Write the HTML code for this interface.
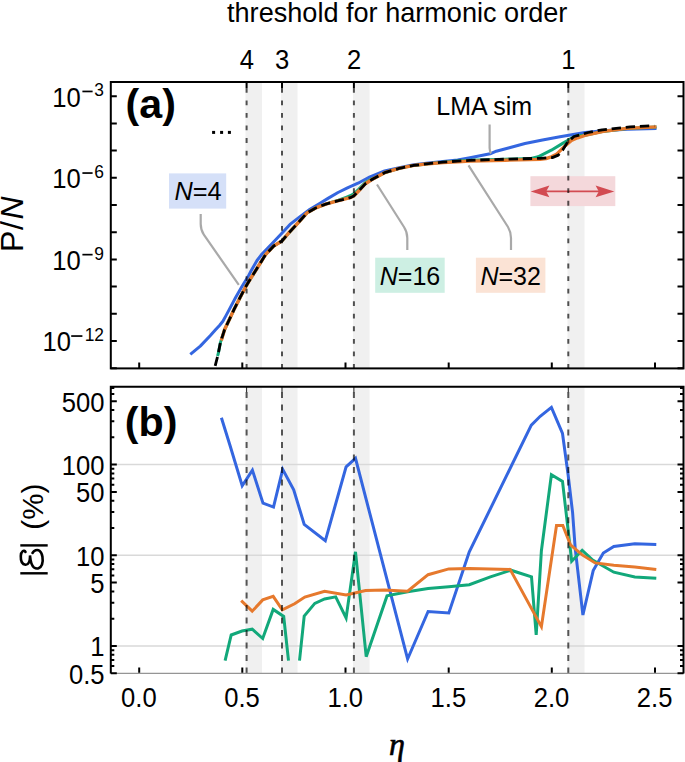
<!DOCTYPE html>
<html><head><meta charset="utf-8"><style>html,body{margin:0;padding:0;background:#fff;}svg{display:block;}</style></head>
<body>
<svg width="685" height="762" viewBox="0 0 685 762">
<rect x="0" y="0" width="685" height="762" fill="#fff"/>
<defs><clipPath id="ct"><rect x="110.8" y="82.0" width="572.7" height="286.4"/></clipPath><clipPath id="cb"><rect x="110.8" y="386.7" width="572.7" height="286.7"/></clipPath></defs>
<g clip-path="url(#ct)">
<rect x="245.5" y="82.0" width="16.5" height="286.4" fill="#f0f0f0"/>
<rect x="281.0" y="82.0" width="16.5" height="286.4" fill="#f0f0f0"/>
<rect x="353.0" y="82.0" width="16.600000000000023" height="286.4" fill="#f0f0f0"/>
<rect x="567.5" y="82.0" width="17.0" height="286.4" fill="#f0f0f0"/>
</g>
<g clip-path="url(#cb)">
<rect x="245.5" y="386.7" width="16.5" height="286.7" fill="#f0f0f0"/>
<rect x="281.0" y="386.7" width="16.5" height="286.7" fill="#f0f0f0"/>
<rect x="353.0" y="386.7" width="16.600000000000023" height="286.7" fill="#f0f0f0"/>
<rect x="567.5" y="386.7" width="17.0" height="286.7" fill="#f0f0f0"/>
</g>
<line x1="110.8" y1="646.0" x2="683.5" y2="646.0" stroke="#d9d9d9" stroke-width="1.5"/>
<line x1="110.8" y1="555.3" x2="683.5" y2="555.3" stroke="#d9d9d9" stroke-width="1.5"/>
<line x1="110.8" y1="464.6" x2="683.5" y2="464.6" stroke="#d9d9d9" stroke-width="1.5"/>
<rect x="530.4" y="176.2" width="84.9" height="29.9" fill="#f4d8db"/>
<line x1="545" y1="191.4" x2="600" y2="191.4" stroke="#d24b52" stroke-width="1.7"/>
<path d="M530.7,191.4 L549.4,185.6 L546.2,191.4 L549.4,197.2 Z" fill="#d24b52"/>
<path d="M614.3,191.4 L595.6,185.6 L598.8,191.4 L595.6,197.2 Z" fill="#d24b52"/>
<g clip-path="url(#ct)" fill="none" stroke-linejoin="round">
<polyline points="190.3,354.4 200.3,346.1 210.4,335.5 215.5,329.8 219.5,325.5 222.9,321.3 226.0,315.6 229.2,309.6 235.5,297.8 241.8,286.8 248.1,276.6 251.0,271.0 257.0,260.5 262.0,254.0 270.7,245.0 280.9,234.2 290.0,224.4 300.0,216.6 310.0,209.2 320.0,203.3 328.0,198.4 338.0,192.5 348.0,187.6 358.0,183.2 370.0,176.8 384.6,171.0 399.2,167.6 413.8,164.8 428.4,163.0 443.0,161.5 457.6,160.0 470.0,157.8 490.1,153.8 496.3,151.2 509.4,147.7 525.0,143.5 542.5,140.0 560.0,136.7 577.6,133.8 585.0,132.6 603.0,130.8 627.0,129.3 656.5,128.4" stroke="#3466e0" stroke-width="3"/>
<polyline points="217.4,356.0 218.1,354.4 220.4,342.6 224.6,329.6 229.6,319.0 234.3,308.9 240.0,297.7 245.5,287.1 249.9,279.7 256.3,269.5 265.5,254.7 273.7,246.0 281.9,241.0 289.0,232.7 299.3,221.5 307.0,212.9 315.2,208.2 325.7,204.1 338.5,200.1 346.1,197.3 350.2,195.7 353.7,193.8 358.4,189.6 365.4,182.6 372.4,178.6 372.4,179.3 384.6,172.7 399.2,168.4 413.8,165.4 428.4,163.7 443.0,162.2 457.6,161.1 470.0,160.3 505.0,159.2 530.0,158.6 538.1,156.8 551.3,150.2 561.8,143.9 567.9,140.2 574.0,136.8 579.3,135.4 585.0,135.3 603.4,131.4 626.7,128.4 656.5,126.9" stroke="#12a87a" stroke-width="3"/>
<polyline points="221.3,340.4 224.6,329.6 229.6,319.0 234.3,308.9 240.0,297.7 245.5,287.1 249.9,279.7 256.3,269.5 265.5,254.7 273.7,246.0 281.9,241.0 289.0,232.7 299.3,221.5 307.0,212.9 315.2,208.2 325.7,204.1 338.5,200.6 350.2,197.7 353.7,196.0 358.4,191.3 365.4,183.7 372.4,179.3 384.6,172.7 399.2,168.4 413.8,165.4 428.4,163.8 443.0,162.6 457.6,161.7 470.0,161.1 505.0,160.2 540.1,159.4 546.0,158.6 551.3,156.8 556.5,154.4 565.3,145.6 571.4,140.4 577.6,137.8 585.0,135.3 603.4,131.4 626.7,128.4 656.5,126.9" stroke="#e6792d" stroke-width="3.4"/>
<polyline points="213.5,372.0 215.1,366.2 218.1,354.4 220.4,342.6 224.6,329.6 229.6,319.0 234.3,308.9 240.0,297.7 245.5,287.1 249.9,279.7 256.3,269.5 265.5,254.7 273.7,246.0 281.9,241.0 289.0,232.7 299.3,221.5 307.0,212.9 315.2,208.2 325.7,204.1 338.5,200.6 350.2,197.7 353.7,196.0 358.4,191.3 365.4,183.7 372.4,179.3 384.6,172.7 399.2,168.4 413.8,165.4 428.4,163.7 443.0,162.2 457.6,161.1 470.0,160.3 505.0,159.2 540.1,158.3 552.3,157.6 558.3,155.1 562.7,150.0 567.9,141.7 574.0,136.5 579.3,135.1 588.2,132.5 602.2,129.8 616.2,128.4 630.2,126.9 644.8,126.1 654.2,125.8" stroke="#000" stroke-width="2.8" stroke-dasharray="9.36 4.8" stroke-dashoffset="7.82"/>
</g>
<g clip-path="url(#cb)" fill="none" stroke-linejoin="miter" stroke-miterlimit="4" stroke-width="3">
<polyline points="221.4,417.8 229.8,444.8 242.2,485.8 252.4,470.1 263.0,503.1 273.5,507.1 282.7,469.3 293.7,489.8 304.2,524.4 325.3,540.8 346.1,466.8 355.5,458.3 407.6,659.0 428.1,611.5 448.8,613.0 469.3,551.8 531.3,425.2 540.2,416.3 551.4,407.4 562.5,433.5 568.1,474.7 572.6,512.6 575.2,548.4 582.9,615.0 593.2,570.6 603.3,553.1 613.8,546.5 634.8,543.7 656.3,544.4" stroke="#3466e0"/>
<polyline points="225.1,660.7 231.2,635.0 242.0,631.0 252.2,629.2 262.7,638.5 273.2,609.4 283.7,616.4 288.5,660.7" stroke="#12a87a"/>
<polyline points="299.5,660.7 304.2,616.1 314.8,603.4 324.6,599.0 335.7,596.9 346.1,618.0 355.5,551.8 366.2,656.7 387.0,595.9 407.6,591.8 428.1,588.6 448.8,586.8 469.3,584.7 490.4,576.8 510.8,570.2 531.5,576.9 536.2,634.8 541.4,550.7 551.4,474.7 562.5,481.4 571.7,561.2 582.2,550.3 592.7,560.1 613.8,572.2 634.8,576.9 656.3,578.3" stroke="#12a87a"/>
<polyline points="241.2,600.6 252.2,611.2 262.7,599.9 273.2,596.4 282.3,609.9 294.6,603.8 304.8,597.1 324.6,591.2 346.1,595.0 365.6,590.5 384.5,590.0 407.6,591.2 428.1,574.7 448.8,568.9 469.3,568.4 510.1,569.4 541.4,626.7 556.5,525.5 562.8,525.5 570.5,544.9 582.2,554.9 595.1,562.9 613.8,565.2 634.8,567.1 656.3,569.4" stroke="#e6792d"/>
</g>
<line x1="246.6" y1="87.9" x2="246.6" y2="368.4" stroke="#000" stroke-opacity="0.67" stroke-width="2" stroke-dasharray="4.8 7.75"/>
<line x1="246.6" y1="391.9" x2="246.6" y2="673.4" stroke="#000" stroke-opacity="0.65" stroke-width="2" stroke-dasharray="6 6.53"/>
<line x1="282.0" y1="87.9" x2="282.0" y2="368.4" stroke="#000" stroke-opacity="0.67" stroke-width="2" stroke-dasharray="4.8 7.75"/>
<line x1="282.0" y1="391.9" x2="282.0" y2="673.4" stroke="#000" stroke-opacity="0.65" stroke-width="2" stroke-dasharray="6 6.53"/>
<line x1="353.9" y1="87.9" x2="353.9" y2="368.4" stroke="#000" stroke-opacity="0.67" stroke-width="2" stroke-dasharray="4.8 7.75"/>
<line x1="353.9" y1="391.9" x2="353.9" y2="673.4" stroke="#000" stroke-opacity="0.65" stroke-width="2" stroke-dasharray="6 6.53"/>
<line x1="568.3" y1="87.9" x2="568.3" y2="368.4" stroke="#000" stroke-opacity="0.67" stroke-width="2" stroke-dasharray="4.8 7.75"/>
<line x1="568.3" y1="391.9" x2="568.3" y2="673.4" stroke="#000" stroke-opacity="0.65" stroke-width="2" stroke-dasharray="6 6.53"/>
<g fill="none" stroke="#a9a9a9" stroke-width="2.2">
<path d="M200.7,214 L200.7,224 Q200.7,230 204,235 L238.8,284.8"/>
<path d="M407.3,250 L407.3,238 Q407.3,232 404,227 L377,184.5"/>
<path d="M511,250 L511,238 Q511,232 508,227 L468.5,165.4"/>
<path d="M489.6,124.5 L489.6,148 Q489.8,152 491,153.5"/>
</g>
<rect x="169" y="173.4" width="57.2" height="35.2" fill="#d5e0f8"/>
<rect x="375.2" y="257.7" width="69.5" height="35.1" fill="#cdefe3"/>
<rect x="475.9" y="257.7" width="69.5" height="35.1" fill="#fbe3d5"/>
<line x1="110.8" y1="673.4" x2="683.5" y2="673.4" stroke="#959595" stroke-width="1.4"/>
<path d="M110.8,96.2h6 M683.5,96.2h-6 M110.8,123.4h6 M683.5,123.4h-6 M110.8,150.6h6 M683.5,150.6h-6 M110.8,177.8h6 M683.5,177.8h-6 M110.8,205.0h6 M683.5,205.0h-6 M110.8,232.2h6 M683.5,232.2h-6 M110.8,259.4h6 M683.5,259.4h-6 M110.8,286.6h6 M683.5,286.6h-6 M110.8,313.8h6 M683.5,313.8h-6 M110.8,341.0h6 M683.5,341.0h-6 M110.8,368.2h6 M683.5,368.2h-6 M139.2,368.4v-6 M139.2,672.8v-5.4 M242.3,368.4v-6 M242.3,672.8v-5.4 M345.5,368.4v-6 M345.5,672.8v-5.4 M448.7,368.4v-6 M448.7,672.8v-5.4 M551.8,368.4v-6 M551.8,672.8v-5.4 M655.0,368.4v-6 M655.0,672.8v-5.4 M246.6,82.0v6 M282.0,82.0v6 M353.9,82.0v6 M568.3,82.0v6 M110.8,673.3h6 M683.5,673.3h-6 M110.8,666.1h3.5 M683.5,666.1h-3.5 M110.8,660.0h3.5 M683.5,660.0h-3.5 M110.8,654.8h3.5 M683.5,654.8h-3.5 M110.8,650.2h3.5 M683.5,650.2h-3.5 M110.8,646.0h6 M683.5,646.0h-6 M110.8,618.7h3.5 M683.5,618.7h-3.5 M110.8,602.7h3.5 M683.5,602.7h-3.5 M110.8,591.4h3.5 M683.5,591.4h-3.5 M110.8,582.6h6 M683.5,582.6h-6 M110.8,575.4h3.5 M683.5,575.4h-3.5 M110.8,569.3h3.5 M683.5,569.3h-3.5 M110.8,564.1h3.5 M683.5,564.1h-3.5 M110.8,559.5h3.5 M683.5,559.5h-3.5 M110.8,555.3h6 M683.5,555.3h-6 M110.8,528.0h3.5 M683.5,528.0h-3.5 M110.8,512.0h3.5 M683.5,512.0h-3.5 M110.8,500.7h3.5 M683.5,500.7h-3.5 M110.8,491.9h6 M683.5,491.9h-6 M110.8,484.7h3.5 M683.5,484.7h-3.5 M110.8,478.6h3.5 M683.5,478.6h-3.5 M110.8,473.4h3.5 M683.5,473.4h-3.5 M110.8,468.8h3.5 M683.5,468.8h-3.5 M110.8,464.6h6 M683.5,464.6h-6 M110.8,437.3h3.5 M683.5,437.3h-3.5 M110.8,421.3h3.5 M683.5,421.3h-3.5 M110.8,410.0h3.5 M683.5,410.0h-3.5 M110.8,401.2h6 M683.5,401.2h-6 M110.8,394.0h3.5 M683.5,394.0h-3.5 M110.8,387.9h3.5 M683.5,387.9h-3.5" stroke="#000" stroke-width="2" fill="none"/>
<line x1="246.6" y1="386.7" x2="246.6" y2="392.2" stroke="#222" stroke-width="1"/>
<line x1="282.0" y1="386.7" x2="282.0" y2="392.2" stroke="#222" stroke-width="1"/>
<line x1="353.9" y1="386.7" x2="353.9" y2="392.2" stroke="#222" stroke-width="1"/>
<line x1="568.3" y1="386.7" x2="568.3" y2="392.2" stroke="#222" stroke-width="1"/>
<rect x="110.8" y="82.0" width="572.7" height="286.4" fill="none" stroke="#000" stroke-width="2"/>
<path d="M110.8,673.4 V386.7 H683.5 V673.4" fill="none" stroke="#000" stroke-width="2"/>
<text x="397.2" y="21.6" font-size="27.1" text-anchor="middle" font-family="Liberation Sans, sans-serif">threshold for harmonic order</text>
<text transform="translate(246.80,69.00) scale(0.925,1)" font-size="27.7" text-anchor="middle" font-family="Liberation Sans, sans-serif">4</text>
<text transform="translate(282.20,69.00) scale(0.925,1)" font-size="27.7" text-anchor="middle" font-family="Liberation Sans, sans-serif">3</text>
<text transform="translate(354.10,69.00) scale(0.925,1)" font-size="27.7" text-anchor="middle" font-family="Liberation Sans, sans-serif">2</text>
<text transform="translate(568.50,69.00) scale(0.925,1)" font-size="27.7" text-anchor="middle" font-family="Liberation Sans, sans-serif">1</text>
<text transform="translate(80.80,106.6) scale(0.925,1)" text-anchor="end" font-family="Liberation Sans, sans-serif" font-size="27.7">10</text>
<rect x="82.4" y="90.60" width="10.20" height="1.7" fill="#000"/>
<text transform="translate(104.0,96.40) scale(0.925,1)" text-anchor="end" font-family="Liberation Sans, sans-serif" font-size="18.8">3</text>
<text transform="translate(80.80,188.2) scale(0.925,1)" text-anchor="end" font-family="Liberation Sans, sans-serif" font-size="27.7">10</text>
<rect x="82.4" y="172.20" width="10.20" height="1.7" fill="#000"/>
<text transform="translate(104.0,178.00) scale(0.925,1)" text-anchor="end" font-family="Liberation Sans, sans-serif" font-size="18.8">6</text>
<text transform="translate(80.80,269.8) scale(0.925,1)" text-anchor="end" font-family="Liberation Sans, sans-serif" font-size="27.7">10</text>
<rect x="82.4" y="253.80" width="10.20" height="1.7" fill="#000"/>
<text transform="translate(104.0,259.60) scale(0.925,1)" text-anchor="end" font-family="Liberation Sans, sans-serif" font-size="18.8">9</text>
<text transform="translate(71.10,351.2) scale(0.925,1)" text-anchor="end" font-family="Liberation Sans, sans-serif" font-size="27.7">10</text>
<rect x="71.2" y="335.20" width="11.20" height="1.7" fill="#000"/>
<text transform="translate(104.0,341.00) scale(0.925,1)" text-anchor="end" font-family="Liberation Sans, sans-serif" font-size="18.8">12</text>
<text transform="translate(104.60,411.60) scale(0.925,1)" font-size="27.7" text-anchor="end" font-family="Liberation Sans, sans-serif">500</text>
<text transform="translate(104.60,475.00) scale(0.925,1)" font-size="27.7" text-anchor="end" font-family="Liberation Sans, sans-serif">100</text>
<text transform="translate(104.60,502.30) scale(0.925,1)" font-size="27.7" text-anchor="end" font-family="Liberation Sans, sans-serif">50</text>
<text transform="translate(104.60,565.70) scale(0.925,1)" font-size="27.7" text-anchor="end" font-family="Liberation Sans, sans-serif">10</text>
<text transform="translate(104.60,593.00) scale(0.925,1)" font-size="27.7" text-anchor="end" font-family="Liberation Sans, sans-serif">5</text>
<text transform="translate(104.60,656.40) scale(0.925,1)" font-size="27.7" text-anchor="end" font-family="Liberation Sans, sans-serif">1</text>
<text transform="translate(104.60,683.70) scale(0.925,1)" font-size="27.7" text-anchor="end" font-family="Liberation Sans, sans-serif">0.5</text>
<text transform="translate(138.90,706.80) scale(0.925,1)" font-size="27.7" text-anchor="middle" font-family="Liberation Sans, sans-serif">0.0</text>
<text transform="translate(242.05,706.80) scale(0.925,1)" font-size="27.7" text-anchor="middle" font-family="Liberation Sans, sans-serif">0.5</text>
<text transform="translate(345.20,706.80) scale(0.925,1)" font-size="27.7" text-anchor="middle" font-family="Liberation Sans, sans-serif">1.0</text>
<text transform="translate(448.35,706.80) scale(0.925,1)" font-size="27.7" text-anchor="middle" font-family="Liberation Sans, sans-serif">1.5</text>
<text transform="translate(551.50,706.80) scale(0.925,1)" font-size="27.7" text-anchor="middle" font-family="Liberation Sans, sans-serif">2.0</text>
<text transform="translate(654.65,706.80) scale(0.925,1)" font-size="27.7" text-anchor="middle" font-family="Liberation Sans, sans-serif">2.5</text>
<text x="397" y="754.5" font-size="32" text-anchor="middle" font-family="Liberation Serif, serif" font-style="italic" stroke="#000" stroke-width="0.6">η</text>
<text x="125.6" y="117.5" font-size="40" font-weight="bold" font-family="Liberation Sans, sans-serif" textLength="50.3" lengthAdjust="spacingAndGlyphs">(a)</text>
<text x="124.8" y="435.7" font-size="40" font-weight="bold" font-family="Liberation Sans, sans-serif" textLength="52.6" lengthAdjust="spacingAndGlyphs">(b)</text>
<rect x="212.1" y="130.9" width="3" height="3" fill="#000"/>
<rect x="220.1" y="130.9" width="3" height="3" fill="#000"/>
<rect x="227.9" y="130.9" width="3" height="3" fill="#000"/>
<text x="484.2" y="114.5" font-size="25" text-anchor="middle" font-family="Liberation Sans, sans-serif">LMA sim</text>
<text x="198" y="199.7" font-size="25.3" text-anchor="middle" font-family="Liberation Sans, sans-serif"><tspan font-style="italic">N</tspan>=4</text>
<text x="410" y="284.6" font-size="25" text-anchor="middle" font-family="Liberation Sans, sans-serif"><tspan font-style="italic">N</tspan>=16</text>
<text x="510.7" y="284.6" font-size="25" text-anchor="middle" font-family="Liberation Sans, sans-serif"><tspan font-style="italic">N</tspan>=32</text>
<text transform="translate(22.7,252.0) rotate(-90)" font-size="32" font-family="Liberation Sans, sans-serif">P<tspan dx="0.6">/</tspan><tspan dx="1.6" font-style="italic">N</tspan></text>
<text transform="translate(42.6,506.7) rotate(-90)" font-size="29.5" text-anchor="middle" font-family="Liberation Sans, sans-serif">(%)</text>
<g stroke="#000" stroke-width="2.4" fill="none">
<line x1="20.3" y1="545.4" x2="47.7" y2="545.4"/><line x1="20.3" y1="573.3" x2="47.7" y2="573.3"/>
</g>
<path d="M25.5,552 C24,549.5 21,551 20.8,556 C20.6,561 22,564.5 25.5,564.8 C28.5,565 30,561 30,557 L30,555.5 C30.5,560 30.5,565 34,567.5 C37,569.5 40.5,568.5 42,564.5 C43.5,560 42.5,553 39.5,550.8 C37,549 34,550.5 32.5,553" stroke="#000" stroke-width="2.6" fill="none" stroke-linecap="round"/>
</svg>
</body></html>
